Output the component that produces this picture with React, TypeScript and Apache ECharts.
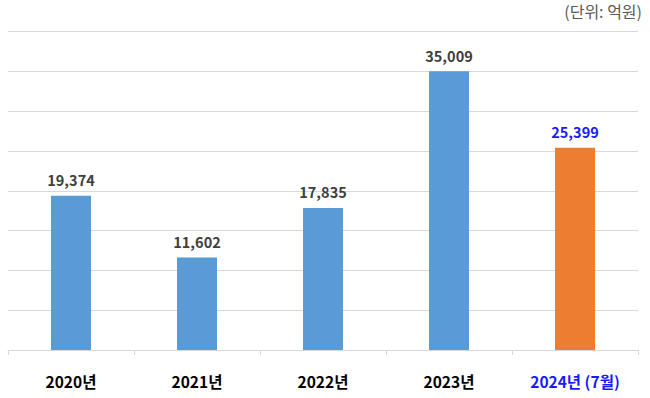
import React, { useEffect, useRef } from "react";
import * as echarts from "echarts";

const categories = ["2020년", "2021년", "2022년", "2023년", "2024년 (7월)"];
const values = [19374, 11602, 17835, 35009, 25399];
const highlightIndex = 4;
const unitText = "(단위: 억원)";

export default function App() {
  const ref = useRef<HTMLDivElement>(null);
  useEffect(() => {
    if (!ref.current) return;
    const chart = echarts.init(ref.current, undefined, { renderer: "svg" });
    const font = "'Noto Sans CJK KR', 'Noto Sans', sans-serif";
    chart.setOption({
      animation: false,
      backgroundColor: "#ffffff",
      textStyle: { fontFamily: font },
      graphic: [
        {
          type: "text",
          right: 8,
          top: 3,
          style: {
            text: unitText,
            fontSize: 16,
            fontFamily: font,
            fill: "#595959",
          },
        },
      ],
      grid: { left: 8, right: 12, top: 31.5, bottom: 48 },
      xAxis: {
        type: "category",
        data: categories,
        axisLine: { lineStyle: { color: "#d9d9d9" } },
        axisTick: { show: true, length: 5, lineStyle: { color: "#d9d9d9" } },
        axisLabel: {
          margin: 23,
          fontSize: 15.5,
          fontWeight: "bold",
          fontFamily: font,
          color: (_v: string, i: number) => (i === highlightIndex ? "#1a1aff" : "#000000"),
        },
      },
      yAxis: {
        type: "value",
        min: 0,
        max: 40000,
        interval: 5000,
        axisLabel: { show: false },
        axisLine: { show: false },
        axisTick: { show: false },
        splitLine: { lineStyle: { color: "#d9d9d9" } },
      },
      series: [
        {
          type: "bar",
          barWidth: 40,
          data: values.map((v, i) => ({
            value: v,
            itemStyle: { color: i === highlightIndex ? "#ed7d31" : "#5b9bd5" },
            label: {
              color: i === highlightIndex ? "#1a1aff" : "#404040",
            },
          })),
          label: {
            show: true,
            position: "top",
            distance: 9,
            fontSize: 14.5,
            fontWeight: "bold",
            fontFamily: font,
            formatter: (p: any) => Number(p.value).toLocaleString("en-US"),
          },
        },
      ],
    });
    return () => chart.dispose();
  }, []);
  return (
    <div
      ref={ref}
      style={{ position: "absolute", left: 0, top: 0, width: 650, height: 398 }}
    />
  );
}
